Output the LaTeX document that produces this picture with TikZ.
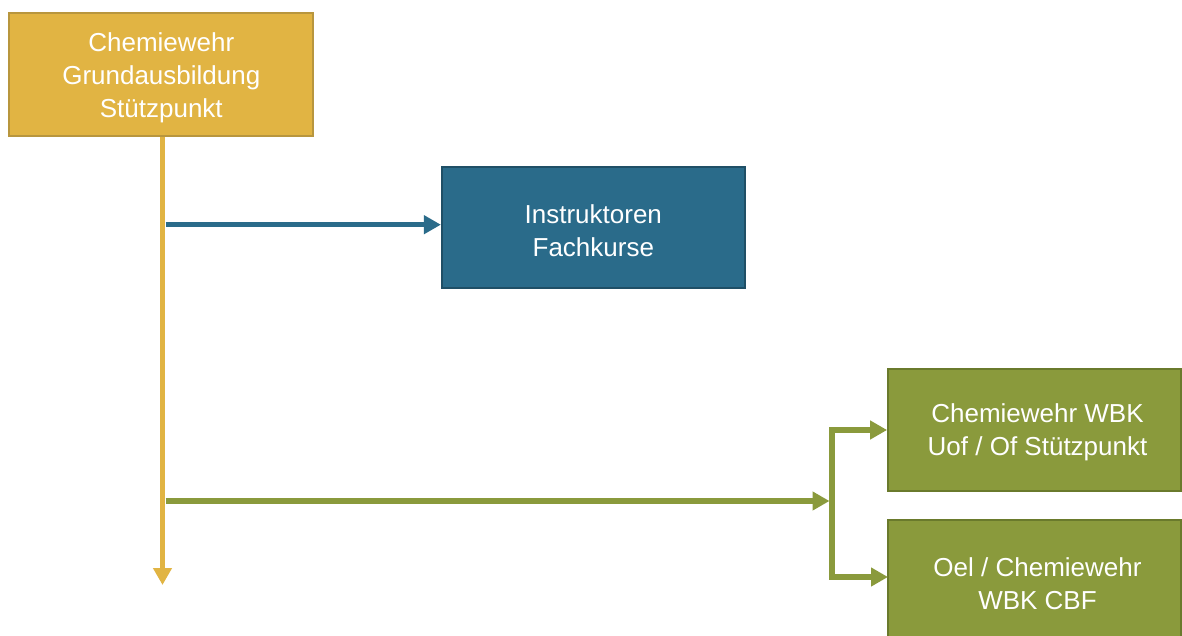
\documentclass[tikz,border=0pt]{standalone}
\usepackage{fontspec}
\setmainfont{Liberation Sans}
\usetikzlibrary{arrows.meta}
\definecolor{ylw}{HTML}{E1B443}
\definecolor{ylwd}{HTML}{B8963E}
\definecolor{blu}{HTML}{2A6B8A}
\definecolor{blud}{HTML}{1F4F66}
\definecolor{grn}{HTML}{8A9A3C}
\definecolor{grnd}{HTML}{6A7A2C}
\tikzset{
  box/.style={rectangle, inner sep=0pt, line width=1.8pt},
  txt/.style={inner sep=0pt, text=white, align=center,
    font=\fontsize{26}{33}\selectfont},
  ybox/.style={box, fill=ylw, draw=ylwd, minimum width=304pt, minimum height=122.7pt},
  bbox/.style={box, fill=blu, draw=blud, minimum width=303pt, minimum height=121.7pt},
  gbox/.style={box, fill=grn, draw=grnd, minimum width=293pt, minimum height=122pt},
  conn/.style={line width=5.5pt, -{Triangle[length=17pt,width=18pt]}}
}
\begin{document}
\begin{tikzpicture}[x=1pt,y=-1pt]
\clip (0,0) rectangle (1182,636);
\fill[white] (0,0) rectangle (1182,636);
\node[ybox] (y) at (161.3,74.7) {};
\node[bbox] (b) at (593.3,227.5) {};
\node[gbox] (g1) at (1034.5,430) {};
\node[gbox] (g2) at (1034.5,581) {};
\node[txt] (yt) at ([yshift=-3.5pt]y.center) {Chemiewehr\\Grundausbildung\\Stützpunkt};
\node[txt] (bt) at ([yshift=-3.5pt]b.center) {Instruktoren\\Fachkurse};
\node[txt] (g1t) at ([yshift=-2.5pt,xshift=3pt]g1.center) {Chemiewehr WBK\\Uof / Of Stützpunkt};
\node[txt] (g2t) at ([yshift=-2.5pt,xshift=3pt]g2.center) {Oel / Chemiewehr\\WBK CBF};
\coordinate (yend) at (162.5,585);
\coordinate (ybl) at (162.5,224.7);
\coordinate (ygr) at (162.5,501);
\coordinate (br) at (832,501);
\coordinate (g2in) at (888,577);
\draw[conn, ylw] (y.south -| yend) -- (yend);
\draw[conn, blu] ([xshift=3pt]ybl) -- (ybl -| b.west);
\draw[conn, grn, shorten >=2.5pt] ([xshift=3pt]ygr) -- (br);
\draw[conn, grn] (br) |- (g1.west);
\draw[conn, grn] (br) |- (g2in);
\end{tikzpicture}
\end{document}
